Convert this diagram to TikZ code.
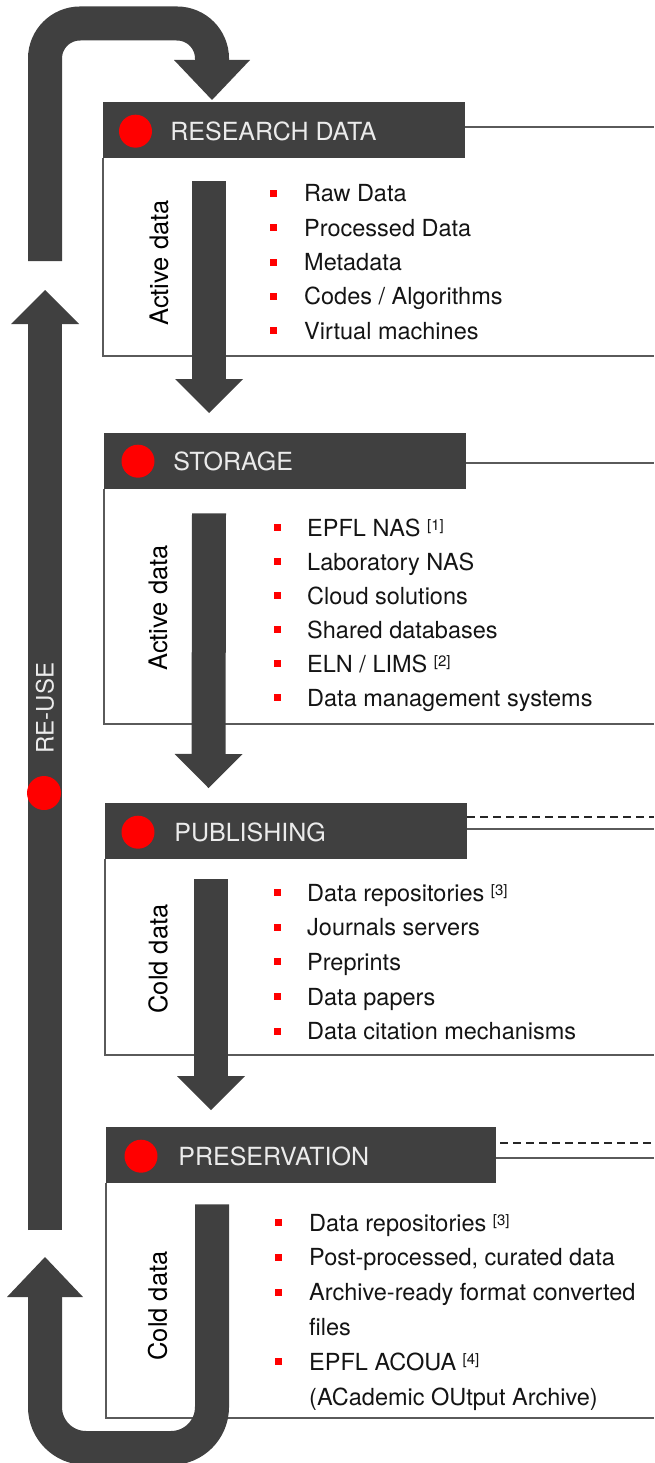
\documentclass[tikz,border=0pt]{standalone}
\usepackage{fontspec}
\setmainfont{TeX Gyre Heros}
\usetikzlibrary{arrows.meta, positioning, calc}

\definecolor{dark}{RGB}{64,64,64}
\definecolor{framegray}{RGB}{90,90,90}
\definecolor{dotred}{RGB}{255,0,0}
\newcommand{\refmark}[1]{{\fontsize{15}{15}\selectfont\raisebox{6pt}{[#1]}}}

\tikzset{
  hdr/.style={fill=dark, minimum width=362pt, minimum height=56pt, inner sep=0pt, anchor=north west},
  hdrtext/.style={text=white!92!black, font=\fontsize{25}{28}\selectfont, inner sep=0pt, text height=18pt, text depth=0pt, anchor=west},
  reddot/.style={circle, fill=dotred, minimum size=33pt, inner sep=0pt},
  sidelabel/.style={rotate=90, font=\fontsize{25.5}{28}\selectfont, inner sep=0pt},
  itm/.style={font=\fontsize{23.5}{28}\selectfont, inner sep=0pt, anchor=base west, text=black!92},
  bullet/.style={fill=dotred, minimum size=7pt, inner sep=0pt},
  frame/.style={draw=framegray, line width=1.6pt},
  dashline/.style={draw=black!85, line width=2pt, dash pattern=on 8pt off 5pt},
  flow/.style={draw=dark, line width=34pt, -{Triangle[width=68pt, length=34pt, line width=0pt]}},
  bigflow/.style={draw=dark, line width=34pt, -{Triangle[width=76pt, length=40pt, line width=0pt]}},
}

\begin{document}
\begin{tikzpicture}[x=1pt, y=-1pt]
  \useasboundingbox (0,0) rectangle (654,1463);
  \coordinate (edge) at (654,0);

  % stage headers
  \node[hdr] (RD) at (103,102) {};
  \node[hdr] (ST) at (104,433) {};
  \node[hdr] (PB) at (105,803) {};
  \node[hdr, minimum width=390pt] (PR) at (106,1127) {};

  \node[reddot] (RDdot) at ([xshift=32.5pt, yshift=-1pt]RD.west) {};
  \node[reddot] (STdot) at ([xshift=34pt]ST.west) {};
  \node[reddot] (PBdot) at ([xshift=33pt, yshift=-1pt]PB.west) {};
  \node[reddot] (PRdot) at ([xshift=35pt, yshift=-1pt]PR.west) {};

  \node[hdrtext, right=18pt of RDdot] (RDtxt) {RESEARCH DATA};
  \node[hdrtext, right=18.5pt of STdot] (STtxt) {STORAGE};
  \node[hdrtext, right=19.5pt of PBdot] (PBtxt) {PUBLISHING};
  \node[hdrtext, right=20.5pt of PRdot] (PRtxt) {PRESERVATION};

  % box outlines
  \coordinate (RDend) at (654,356);
  \coordinate (STend) at (654,724);
  \coordinate (PBend) at (654,1055);
  \coordinate (PRend) at (654,1418);
  \draw[frame] ([yshift=3pt]RD.east) -- ([yshift=3pt]RD.east -| edge);
  \draw[frame] ([yshift=-2pt]ST.east) -- ([yshift=-2pt]ST.east -| edge);
  \draw[frame] ([yshift=2pt]PB.east) -- ([yshift=2pt]PB.east -| edge);
  \draw[frame] ([yshift=-3pt]PR.east) -- ([yshift=-3pt]PR.east -| edge);
  \draw[dashline] ([yshift=14pt]PB.east) -- ([yshift=14pt]PB.east -| edge);
  \draw[dashline] ([xshift=4pt, yshift=12pt]PR.east) -- ([yshift=12pt]PR.east -| edge);
  \draw[frame] (RD.south west) |- (RDend);
  \draw[frame] (ST.south west) |- (STend);
  \draw[frame] (PB.south west) |- (PBend);
  \draw[frame] (PR.south west) |- (PRend);

  % side labels
  \node[sidelabel] (RDside) at (159,263) {Active data};
  \node[sidelabel] (STside) at (158,608) {Active data};
  \node[sidelabel] (PBside) at (158,959) {Cold data};
  \node[sidelabel] (PRside) at (157.5,1306) {Cold data};

  % item lists
  \foreach \txt [count=\i from 0] in {Raw Data, Processed Data, Metadata,
      Codes / Algorithms, Virtual machines} {
    \node[bullet] (RDb-\i) at (273.5, 193.5+34.3*\i) {};
    \node[itm] (RDi-\i) at (304, 202+34.3*\i) {\txt};
  }
  \foreach \txt [count=\i from 0] in {EPFL NAS \refmark{1}, Laboratory NAS,
      Cloud solutions, Shared databases, ELN / LIMS \refmark{2},
      Data management systems} {
    \node[bullet] (STb-\i) at (277, 527.5+34*\i) {};
    \node[itm] (STi-\i) at (307, 536+34*\i) {\txt};
  }
  \foreach \txt [count=\i from 0] in {Data repositories \refmark{3},
      Journals servers, Preprints, Data papers, Data citation mechanisms} {
    \node[bullet] (PBb-\i) at (277, 892.5+34.7*\i) {};
    \node[itm] (PBi-\i) at (307, 901+34.7*\i) {\txt};
  }
  \foreach \b/\txt [count=\i from 0] in {1/{Data repositories \refmark{3}},
      1/{Post-processed, curated data}, 1/{Archive-ready format converted},
      0/{files}, 1/{EPFL ACOUA \refmark{4}}, 0/{(ACademic OUtput Archive)}} {
    \ifnum\b=1
      \node[bullet] (PRb-\i) at (278.5, 1222.5+34.8*\i) {};
    \fi
    \node[itm] (PRi-\i) at (309, 1231+34.8*\i) {\txt};
  }

  % flow between stages
  \draw[flow] ([xshift=106pt, yshift=-23pt]RD.south west) -- ([xshift=105pt, yshift=20pt]ST.north west);
  \draw[flow] ([xshift=105pt, yshift=-24pt]ST.south west) -- ([xshift=103.5pt, yshift=15pt]PB.north west);
  \draw[flow] ([xshift=106pt, yshift=-20pt]PB.south west) -- ([xshift=105pt, yshift=17pt]PR.north west);

  % re-use loop
  \coordinate (reuseLow) at (45,1230);
  \coordinate (reuseHigh) at (45,290);
  \coordinate (loopTop) at (212,23.5);
  \coordinate (loopBot) at (45,1448);
  \draw[bigflow, rounded corners=41pt] ([xshift=106pt, yshift=-21pt]PR.south west) |- (loopBot) -- ([yshift=-27pt]reuseLow);
  \draw[flow] (reuseLow) -- (reuseHigh);
  \draw[bigflow, rounded corners=35pt] ([yshift=29pt]reuseHigh) |- (loopTop) -- ([xshift=109pt, yshift=2pt]RD.north west);
  \node[sidelabel, text=white!92!black, font=\fontsize{24}{28}\selectfont] (RU) at (45,708) {RE-USE};
  \node[reddot, minimum size=34pt] (RUdot) at (44,793) {};
\end{tikzpicture}
\end{document}
